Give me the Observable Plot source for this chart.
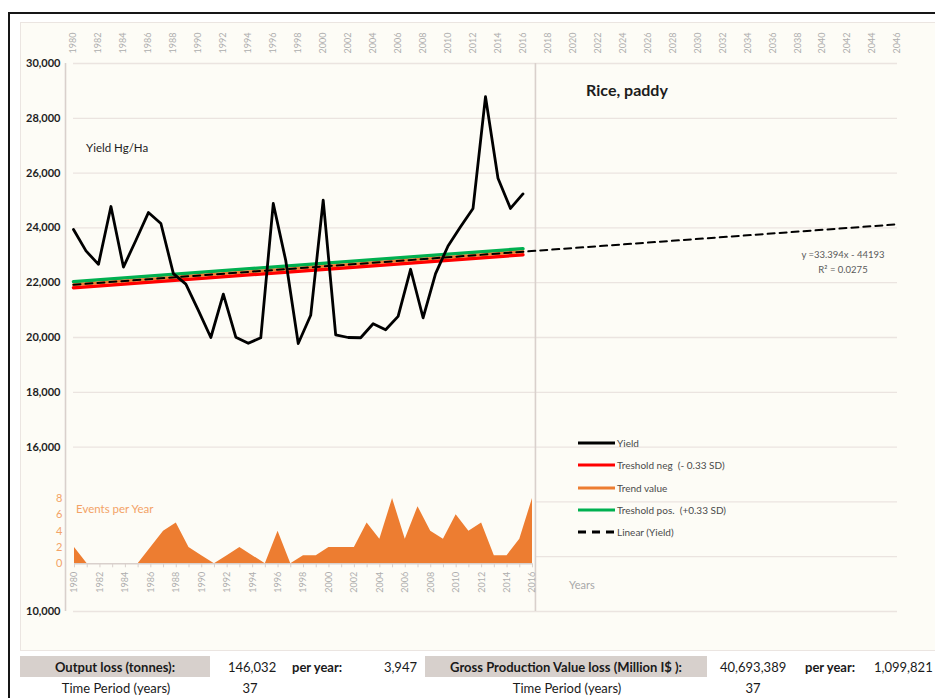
<!DOCTYPE html>
<html>
<head>
<meta charset="utf-8">
<script src="https://cdn.jsdelivr.net/npm/d3@7"></script>
<script src="https://cdn.jsdelivr.net/npm/@observablehq/plot@0.6"></script>
<style>
  html, body { margin: 0; padding: 0; background: #ffffff; }
  #page { position: relative; width: 935px; height: 698px; overflow: hidden; font-family: Lato, "Open Sans", sans-serif; }
  #frame { position: absolute; left: 8px; top: 12px; width: 980px; height: 740px; border-left: 2px solid #161616; border-top: 2px solid #161616; }
  #panel { position: absolute; left: 20px; top: 22px; width: 960px; height: 627px; background: #fdfcf6; border: 1px solid #ebe5e1; }
  .abs { position: absolute; white-space: nowrap; line-height: 1; }
  .mid { transform: translateY(-50%); }
  .ctr { transform: translate(-50%, -50%); }
  #title { font-size: 16px; font-weight: 700; color: #1c1c1c; }
  #yieldLabel { font-size: 11.5px; color: #1e1e1e; }
  #eventsLabel { font-size: 11.5px; color: #f3a367; }
  #yearsLabel { font-size: 11px; color: #a8a8a8; }
  .eq { font-size: 9.5px; color: #5a5a5a; }
  .legend-item { position: absolute; display: flex; align-items: center; font-size: 10px; color: #4a4a4a; white-space: pre; }
  .legend-item svg { display: block; margin-right: 2px; }
  .box { position: absolute; background: #d7d0cc; }
  .cell { position: absolute; font-size: 13px; color: #1a1a1a; white-space: nowrap; line-height: 1; }
  .b { font-weight: 700; }
</style>
</head>
<body>
<div id="page">
  <div id="frame"></div>
  <div id="panel"></div>
  <div id="main" class="abs" style="left:0;top:0"></div>
  <div id="events" class="abs" style="left:0;top:480px"></div>
  <div id="title" class="abs ctr" style="left:627px;top:90px"></div>
  <div id="yieldLabel" class="abs mid" style="left:86px;top:148px"></div>
  <div id="eventsLabel" class="abs mid" style="left:76px;top:509px"></div>
  <div id="yearsLabel" class="abs mid" style="left:569px;top:584px"></div>
  <div id="equation"></div>
  <div id="legend"></div>
  <div id="summary"></div>
</div>
<script>
// Rice, paddy: yield per year (Hg/Ha) and number of events per year
const years = [1980, 1981, 1982, 1983, 1984, 1985, 1986, 1987, 1988, 1989,
               1990, 1991, 1992, 1993, 1994, 1995, 1996, 1997, 1998, 1999,
               2000, 2001, 2002, 2003, 2004, 2005, 2006, 2007, 2008, 2009,
               2010, 2011, 2012, 2013, 2014, 2015, 2016];
const yieldHgHa = [23940, 23160, 22670, 24780, 22570, 23550, 24560, 24160, 22330, 21950,
                   20990, 20000, 21580, 20010, 19790, 19990, 24890, 22810, 19780, 20810,
                   25010, 20100, 20000, 19990, 20500, 20280, 20770, 22490, 20720, 22330,
                   23340, 24040, 24710, 28790, 25810, 24710, 25240];
const eventsPerYear = [2, 0, 0, 0, 0, 0, 2, 4, 5, 2,
                       1, 0, 1, 2, 1, 0, 4, 0, 1, 1,
                       2, 2, 2, 5, 3, 8, 3, 7, 4, 3,
                       6, 4, 5, 1, 1, 3, 8];

// Linear trend of the yield (as printed on the chart) and the ±0.33 SD band around it
const trendSlope = 33.394;
const trendIntercept = -44193;
const rSquared = 0.0275;
const thresholdOffset = 110;
const separatorYear = 2017;
const projectionEnd = 2046;

// Axis ticks
const topYearTicks = [1980, 1982, 1984, 1986, 1988, 1990, 1992, 1994, 1996, 1998, 2000, 2002,
                      2004, 2006, 2008, 2010, 2012, 2014, 2016, 2018, 2020, 2022, 2024, 2026,
                      2028, 2030, 2032, 2034, 2036, 2038, 2040, 2042, 2044, 2046];
const yieldTicks = [10000, 16000, 18000, 20000, 22000, 24000, 26000, 28000, 30000];
const gridUpper = [10000, 16000, 18000, 20000, 22000, 24000, 26000, 28000, 30000];
const gridLower = [12000, 14000];
const eventTicks = [0, 2, 4, 6, 8];

// Legend entries
const legendLabels = ["Yield", "Treshold neg  (- 0.33 SD)", "Trend value", "Treshold pos.  (+0.33 SD)", "Linear (Yield)"];
const legendColors = ["#000000", "#ff0000", "#ed7d31", "#00b050", "#000000"];
const legendDashes = [null, null, null, null, "8,6"];

// Summary table
const outputLossTonnes = "146,032";
const outputLossPerYear = "3,947";
const gpvLoss = "40,693,389";
const gpvLossPerYear = "1,099,821";
const timePeriodYears = "37";

const trendAt = (yr) => trendSlope * yr + trendIntercept;
const yieldData = years.map((year, i) => ({year, value: yieldHgHa[i]}));
const observedSpan = [years[0], years[years.length - 1]];
const trendData = observedSpan.map((year) => ({year, value: trendAt(year)}));
const upperData = trendData.map((d) => ({year: d.year, value: d.value + thresholdOffset}));
const lowerData = trendData.map((d) => ({year: d.year, value: d.value - thresholdOffset}));
const linearData = [years[0], projectionEnd].map((year) => ({year, value: trendAt(year)}));
const eventData = years.map((year, i) => ({year, count: eventsPerYear[i]}));

const gridColor = "#ebe4e0";
const axisColor = "#d9d0cc";
const fontFamily = "Lato, 'Open Sans', sans-serif";

const main = Plot.plot({
  width: 935,
  height: 650,
  marginLeft: 73,
  marginRight: 38,
  marginTop: 63,
  marginBottom: 39,
  style: {background: "transparent", overflow: "visible", fontFamily},
  x: {domain: [1980, projectionEnd]},
  y: {domain: [10000, 30000]},
  marks: [
    Plot.ruleY(gridUpper, {stroke: gridColor, strokeWidth: 1.3}),
    Plot.ruleY(gridLower, {x1: () => separatorYear, x2: () => projectionEnd, stroke: gridColor, strokeWidth: 1.3}),
    Plot.ruleX([separatorYear], {stroke: axisColor, strokeWidth: 1.6}),
    Plot.ruleX([years[0]], {dx: -8, stroke: axisColor, strokeWidth: 1.6}),
    Plot.axisX({anchor: "top", ticks: topYearTicks, tickFormat: (d) => String(d), tickRotate: -90,
                tickSize: 0, tickPadding: 10, fill: "#adadad", fontSize: 9, label: null}),
    Plot.axisY({ticks: yieldTicks, tickFormat: d3.format(","), tickSize: 0, tickPadding: 13,
                fontWeight: "bold", fontSize: 11, fill: "#1e1e1e", label: null}),
    Plot.line(lowerData, {x: "year", y: "value", stroke: "#ff0000", strokeWidth: 3.5}),
    Plot.line(upperData, {x: "year", y: "value", stroke: "#00b050", strokeWidth: 3.5}),
    Plot.line(trendData, {x: "year", y: "value", stroke: "#ed7d31", strokeWidth: 3}),
    Plot.line(linearData, {x: "year", y: "value", stroke: "#000000", strokeWidth: 2, strokeDasharray: "7,5"}),
    Plot.line(yieldData, {x: "year", y: "value", stroke: "#000000", strokeWidth: 2.8})
  ]
});
document.getElementById("main").appendChild(main);

const events = Plot.plot({
  width: 540,
  height: 130,
  marginLeft: 74,
  marginRight: 8,
  marginTop: 18,
  marginBottom: 46.7,
  style: {background: "transparent", overflow: "visible", fontFamily},
  x: {domain: [years[0], years[years.length - 1]]},
  y: {domain: [0, 8]},
  marks: [
    Plot.areaY(eventData, {x: "year", y: "count", fill: "#ed7d31"}),
    Plot.ruleY([0], {stroke: axisColor, strokeWidth: 1.5}),
    Plot.axisX({ticks: years, tickFormat: (d) => (d % 2 ? "" : String(d)), tickRotate: -90,
                tickSize: 4, tickPadding: 4, stroke: axisColor, fill: "#adadad", fontSize: 9, label: null}),
    Plot.axisY({ticks: eventTicks, tickSize: 0, tickPadding: 12, fill: "#f3a367", fontSize: 11, label: null})
  ]
});
document.getElementById("events").appendChild(events);

// Annotations
document.getElementById("title").textContent = "Rice, paddy";
document.getElementById("yieldLabel").textContent = "Yield Hg/Ha";
document.getElementById("eventsLabel").textContent = "Events per Year";
document.getElementById("yearsLabel").textContent = "Years";

const eq = document.getElementById("equation");
const fmtSigned = (v) => (v < 0 ? " - " + Math.abs(v) : " + " + v);
[
  {text: "y =" + trendSlope + "x" + fmtSigned(trendIntercept), top: 255},
  {text: "R² = " + rSquared, top: 270}
].forEach((d) => {
  const el = document.createElement("div");
  el.className = "abs ctr eq";
  el.style.left = "843px";
  el.style.top = d.top + "px";
  el.textContent = d.text;
  eq.appendChild(el);
});

// Legend
const legend = document.getElementById("legend");
legendLabels.forEach((label, i) => {
  const item = document.createElement("div");
  item.className = "legend-item";
  item.style.left = "578px";
  item.style.top = (443 + i * 22.3 - 7) + "px";
  item.style.height = "14px";
  const svg = d3.create("svg").attr("width", 37).attr("height", 6);
  svg.append("line").attr("x1", 0).attr("x2", 37).attr("y1", 3).attr("y2", 3)
    .attr("stroke", legendColors[i]).attr("stroke-width", 3)
    .attr("stroke-dasharray", legendDashes[i]);
  item.appendChild(svg.node());
  const span = document.createElement("span");
  span.textContent = label;
  item.appendChild(span);
  legend.appendChild(item);
});

// Summary rows below the chart
const summary = document.getElementById("summary");
function box(left, width) {
  const el = document.createElement("div");
  el.className = "box";
  el.style.left = left + "px";
  el.style.top = "656px";
  el.style.width = width + "px";
  el.style.height = "21px";
  summary.appendChild(el);
}
function cell(text, x, y, opts = {}) {
  const el = document.createElement("div");
  el.className = "cell" + (opts.bold ? " b" : "");
  el.textContent = text;
  el.style.top = y + "px";
  if (opts.align === "center") {
    el.style.left = x + "px";
    el.style.transform = "translate(-50%, -50%)";
  } else if (opts.align === "right") {
    el.style.right = (935 - x) + "px";
    el.style.transform = "translateY(-50%)";
  } else {
    el.style.left = x + "px";
    el.style.transform = "translateY(-50%)";
  }
  summary.appendChild(el);
}
box(20, 190);
box(425, 282);
cell("Output loss (tonnes):", 115, 667, {bold: true, align: "center"});
cell(outputLossTonnes, 228, 667);
cell("per year:", 292, 667, {bold: true});
cell(outputLossPerYear, 417, 667, {align: "right"});
cell("Gross Production Value loss (Million I$ ):", 566, 667, {bold: true, align: "center"});
cell(gpvLoss, 720, 667);
cell("per year:", 805, 667, {bold: true});
cell(gpvLossPerYear, 874, 667);
cell("Time Period (years)", 116, 688, {align: "center"});
cell(timePeriodYears, 250, 688, {align: "center"});
cell("Time Period (years)", 567, 688, {align: "center"});
cell(timePeriodYears, 753, 688, {align: "center"});
</script>
</body>
</html>
